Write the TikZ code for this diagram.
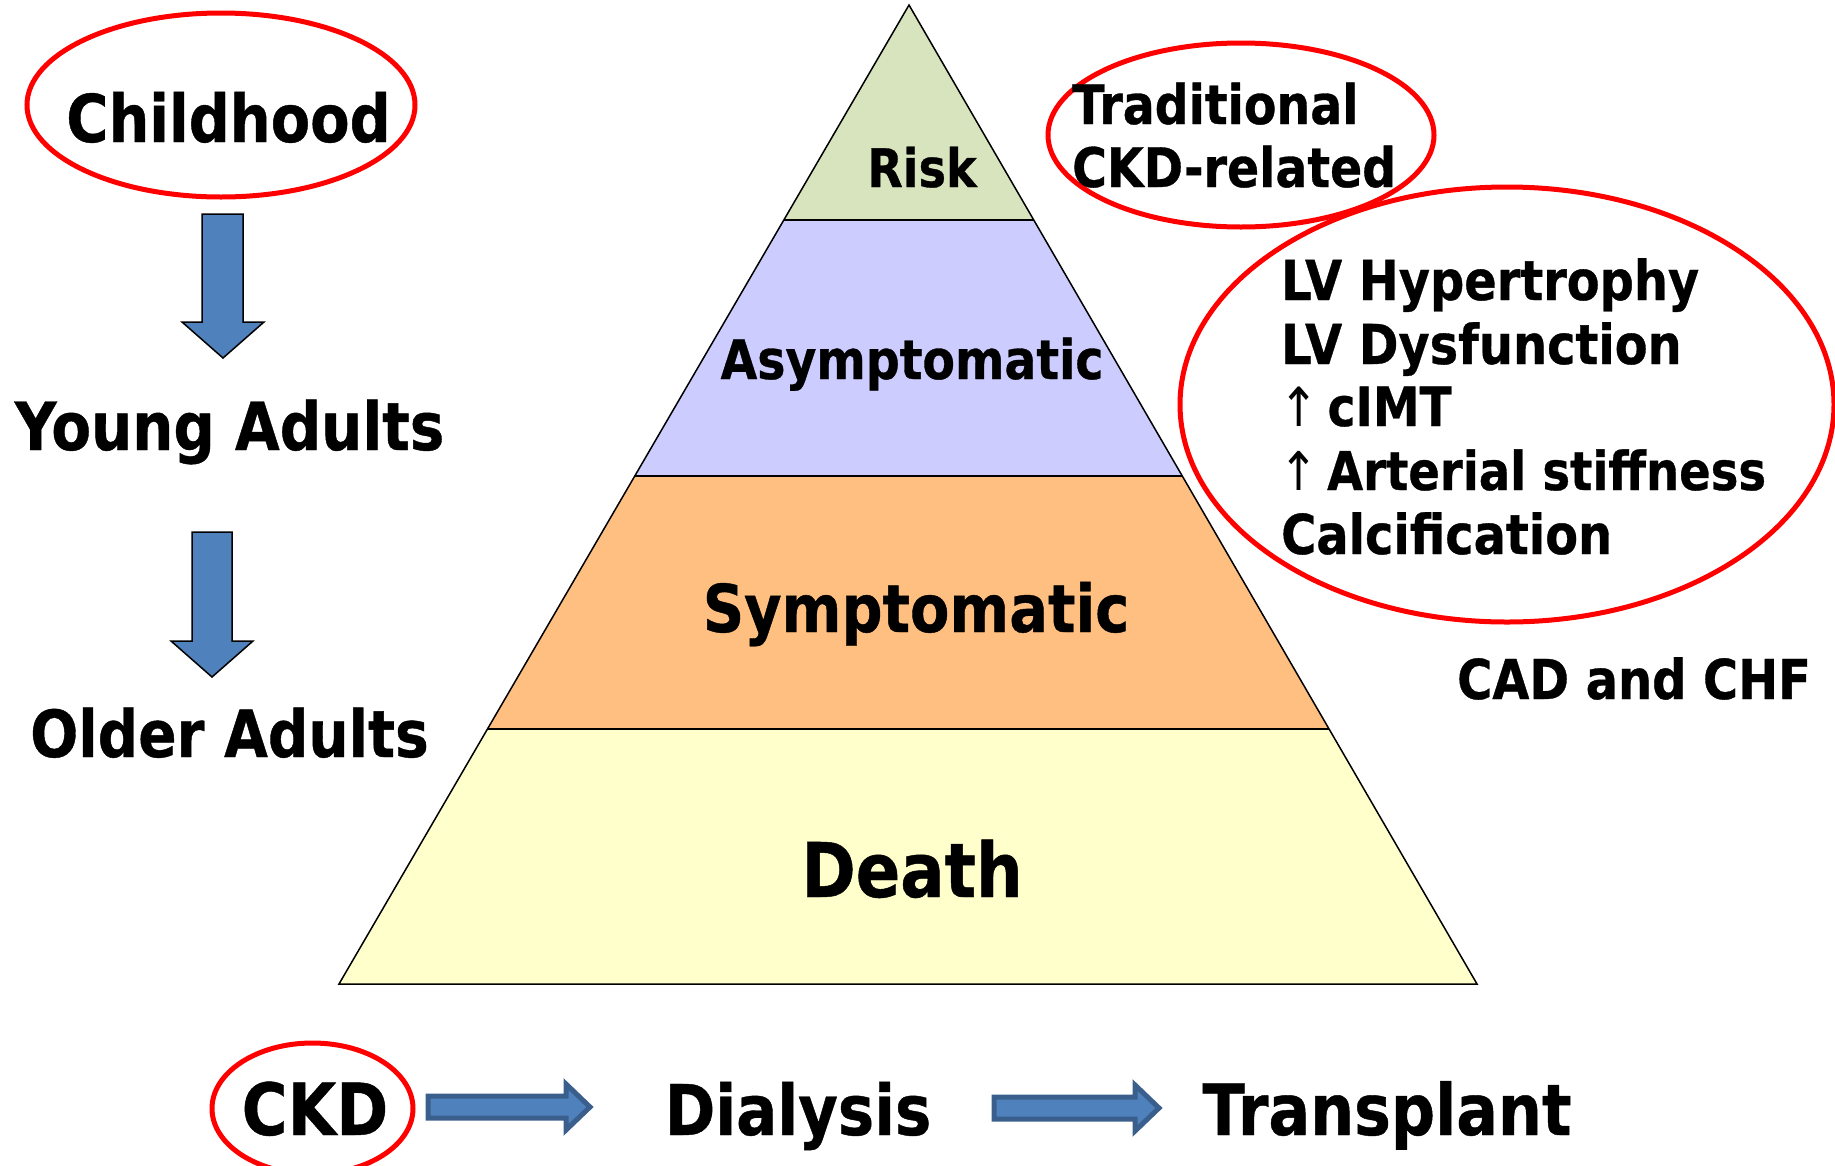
\documentclass[tikz,border=0pt]{standalone}
\usepackage{fontspec}
\setmainfont{DejaVu Sans}[FakeStretch=0.87, BoldFeatures={FakeBold=0.6}]
\usetikzlibrary{shapes.geometric}
\definecolor{riskgreen}{HTML}{D7E4BD}
\definecolor{asymblue}{HTML}{CCCCFF}
\definecolor{symporange}{HTML}{FFBF80}
\definecolor{deathyellow}{HTML}{FFFFCC}
\definecolor{arrowblue}{HTML}{4F81BD}
\definecolor{arrowedge}{HTML}{3B5F8D}
\newcommand\fsz[1]{\fontsize{#1}{#1}\selectfont\bfseries}
\begin{document}
\begin{tikzpicture}[x=1pt,y=-1pt,
  lbl/.style={inner sep=0pt, anchor=base, text=black},
  lblw/.style={inner sep=0pt, anchor=base west, text=black},
  ring/.style={ellipse, draw=red, line width=5pt, inner sep=0pt},
  band/.style={draw=black, line width=1.5pt, line join=miter},
  vblock/.style={fill=arrowblue, draw=black, line width=1.5pt, line join=miter},
  hblock/.style={fill=arrowblue, draw=arrowedge, line width=5pt, line join=miter}]
\useasboundingbox (0,0) rectangle (1835,1165);

% pyramid bands
\fill[riskgreen] (909,5) -- (784,220) -- (1034,220) -- cycle;
\fill[asymblue] (784,220) -- (635,476) -- (1182,476) -- (1034,220) -- cycle;
\fill[symporange] (635,476) -- (488,729) -- (1329,729) -- (1182,476) -- cycle;
\fill[deathyellow] (488,729) -- (339,984) -- (1477,984) -- (1329,729) -- cycle;
\draw[band] (909,5) -- (339,984) -- (1477,984) -- cycle;
\draw[band] (784,220) -- (1034,220);
\draw[band] (635,476) -- (1182,476);
\draw[band] (488,729) -- (1329,729);

\node[lbl, font=\fsz{53}] (risk) at (922,187) {Risk};
\node[lbl, font=\fsz{54.5}] (asym) at (912,379) {Asymptomatic};
\node[lbl, font=\fsz{66}] (symp) at (916,632) {Symptomatic};
\node[lbl, font=\fsz{75.5}] (death) at (912,897) {Death};

% left column
\node[ring, minimum width=388pt, minimum height=184pt] (ringchild) at (221,105) {};
\node[lbl, font=\fsz{66}] (child) at (228.5,142) {Childhood};
\node[lbl, font=\fsz{66.5}] (young) at (229.5,450) {Young Adults};
\node[lbl, font=\fsz{65}] (older) at (229.5,757) {Older Adults};
\draw[vblock] (202,214) -- (243,214) -- (243,322) -- (264,322) -- (223,358) -- (182,322) -- (202,322) -- cycle;
\draw[vblock] (192,532) -- (232,532) -- (232,641) -- (253,641) -- (212,677) -- (171,641) -- (192,641) -- cycle;

% right side
\node[ring, minimum width=386pt, minimum height=184pt] (ringtrad) at (1241,135) {};
\node[lblw, font=\fsz{54.5}] (trad) at (1072,124) {Traditional};
\node[lblw, font=\fsz{54.5}] (ckdrel) at (1072,187) {CKD-related};
\node[ring, minimum width=654pt, minimum height=435pt] (ringlv) at (1507,404.5) {};
\node[lblw, font=\fsz{55}] (lv1) at (1281,300) {LV Hypertrophy};
\node[lblw, font=\fsz{55}] (lv2) at (1281,364) {LV Dysfunction};
\node[lblw, font=\fsz{54}] (lv3) at (1279,426) {{\mdseries ↑}\,cIMT};
\node[lblw, font=\fsz{53.5}] (lv4) at (1279,490) {{\mdseries ↑}\,Arterial stiffness};
\node[lblw, font=\fsz{55}] (lv5) at (1281,554) {Calcification};
\node[lblw, font=\fsz{55}] (cad) at (1457,699) {CAD and CHF};

% bottom row
\node[ring, minimum width=201pt, minimum height=131pt] (ringckd) at (312.5,1108.5) {};
\node[lbl, font=\fsz{72}] (ckd) at (315,1135) {CKD};
\node[lbl, font=\fsz{70}] (dial) at (798,1135) {Dialysis};
\node[lbl, font=\fsz{71}] (trans) at (1387,1135) {Transplant};
\draw[hblock] (428,1096) -- (566,1096) -- (566,1084) -- (590,1107) -- (566,1130) -- (566,1118) -- (428,1118) -- cycle;
\draw[hblock] (994,1097) -- (1135,1097) -- (1135,1085) -- (1159,1108) -- (1135,1131) -- (1135,1119) -- (994,1119) -- cycle;
\end{tikzpicture}
\end{document}
